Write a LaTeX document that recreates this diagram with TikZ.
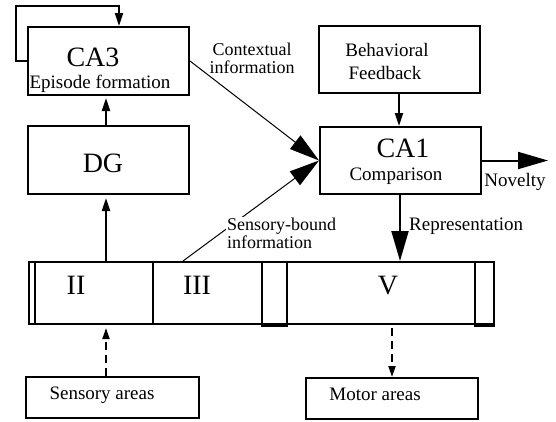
\documentclass[tikz,border=0pt]{standalone}
\usepackage{fontspec}
\setmainfont{Liberation Serif}
\usetikzlibrary{arrows.meta}
\begin{document}
\begin{tikzpicture}[x=1pt,y=-1pt,
  box/.style={draw,line width=2pt,inner sep=0pt,minimum width=#1},
  big/.style={font=\fontsize{28}{30}\selectfont,inner sep=0pt,anchor=base},
  mid/.style={font=\fontsize{19}{21}\selectfont,inner sep=0pt,anchor=base},
  lab/.style={font=\fontsize{18}{18}\selectfont,inner sep=1pt},
  smallarr/.style={line width=2pt,-{Triangle[length=13pt,width=8pt]}},
  bigarr/.style={line width=2pt,-{Triangle[length=30pt,width=17pt]}},
  thinbig/.style={line width=1pt,-{Triangle[length=30pt,width=17pt]}},
  dasharr/.style={line width=2pt,dash pattern=on 8pt off 5pt,-{Triangle[length=11pt,width=7pt]}}
]
\useasboundingbox (0,0) rectangle (556,421);
% boxes
\node[box=161pt,minimum height=68pt] (ca3) at (108.5,61) {};
\node[box=161pt,minimum height=68pt] (dg) at (108.5,160) {};
\node[box=161pt,minimum height=67pt] (bf) at (399.5,59.5) {};
\node[box=161pt,minimum height=67pt] (ca1) at (400.5,160.5) {};
\node[box=465pt,minimum height=62pt] (bar) at (261.5,293) {};
\node[box=173pt,minimum height=41pt] (sens) at (112.5,397.5) {};
\node[box=172pt,minimum height=41pt] (motor) at (392,398.5) {};
% bar internals
\draw[line width=2pt] (35,262) -- (35,324);
\draw[line width=2pt] (153,262) -- (153,324);
\draw[line width=2pt] (262,262) rectangle (287,326);
\draw[line width=2pt] (475,262) rectangle (494,326);
% texts
\node[big] (tca3) at (93,66) {CA3};
\node[mid] (tepi) at (100,88) {Episode formation};
\node[big] (tdg) at (103,172) {DG};
\node[big] (tca1) at (403,157) {CA1};
\node[mid] (tcomp) at (396,180) {Comparison};
\node[mid] (tbeh) at (387,56) {Behavioral};
\node[mid] (tfeed) at (385,79) {Feedback};
\node[big] (tII) at (76,294) {II};
\node[big] (tIII) at (197,294) {III};
\node[big] (tV) at (388,294) {V};
\node[mid] (tsens) at (102,399) {Sensory areas};
\node[mid] (tmot) at (375,400) {Motor areas};
% column coordinates
\coordinate (c1) at (106,0);
\coordinate (cs) at (183,0);
\coordinate (cb) at (399,0);
\coordinate (cr) at (400,0);
\coordinate (cm) at (392,0);
\coordinate (loopc) at (16,6);
\coordinate (loopd) at (119,6);
\coordinate (nov) at (548,160.5);
% connectors
\draw[smallarr] (ca3.west) -- (ca3.west -| loopc) -- (loopc) -- (loopd) -- (ca3.north -| loopd);
\draw[smallarr,shorten >=2pt] (dg.north -| c1) -- (ca3.south -| c1);
\draw[smallarr,shorten >=3pt] (bar.north -| c1) -- (dg.south -| c1);
\draw[dasharr,shorten >=3pt] (sens.north -| c1) -- (bar.south -| c1);
\draw[thinbig] (ca3.east) -- (ca1.west);
\draw[thinbig] (bar.north -| cs) -- (ca1.west);
\draw[smallarr] (bf.south -| cb) -- (ca1.north -| cb);
\draw[bigarr] (ca1.south -| cr) -- (bar.north -| cr);
\draw[bigarr] (ca1.east) -- (nov);
\draw[dasharr,shorten <=3pt] (bar.south -| cm) -- (motor.north -| cm);
% labels
\node[lab,align=center,anchor=base] (lctx) at (252,73) {Contextual\\information};
\node[lab,align=left,fill=white,anchor=base west] (lsb) at (226,248) {Sensory-bound\\information};
\node[mid,anchor=base west] (lrep) at (409,230) {Representation};
\node[mid] (lnov) at (515,186) {Novelty};
\end{tikzpicture}
\end{document}
